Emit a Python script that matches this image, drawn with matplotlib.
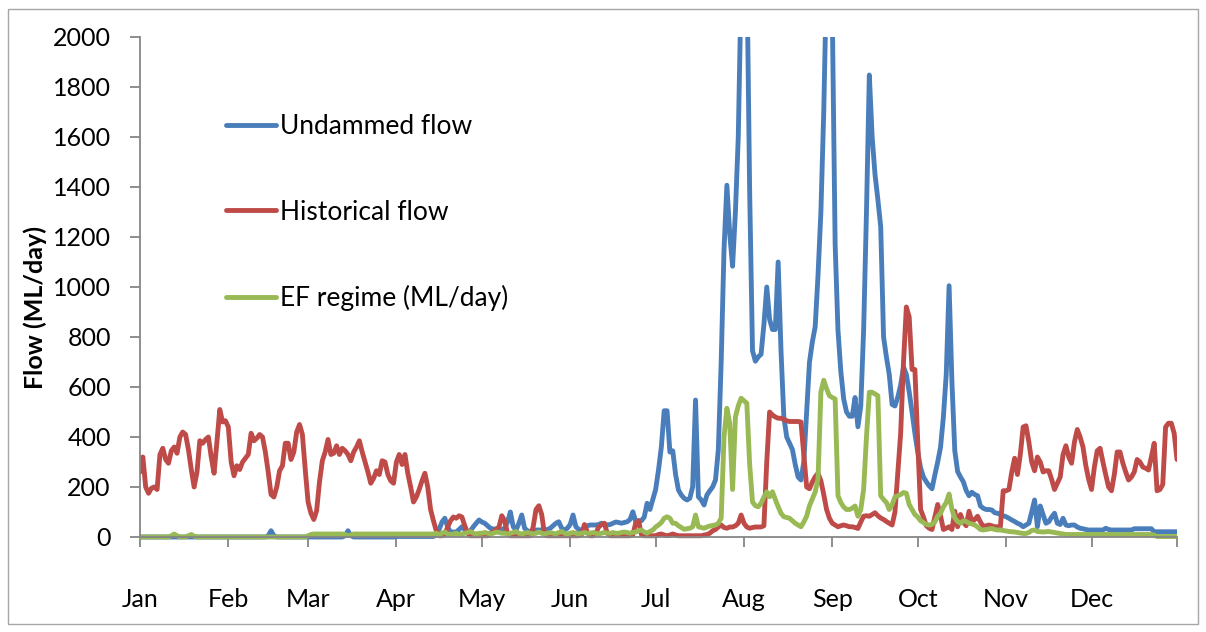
"""Daily flow: undammed vs historical vs EF regime."""

import matplotlib
matplotlib.use("Agg")
import matplotlib.pyplot as plt
import numpy as np
from matplotlib.patches import Rectangle

plt.rcParams["font.family"] = ["Lato", "DejaVu Sans"]

MONTHS = ["Jan", "Feb", "Mar", "Apr", "May", "Jun",
          "Jul", "Aug", "Sep", "Oct", "Nov", "Dec"]
MONTH_START = [0, 31, 59, 90, 120, 151, 181, 212, 243, 273, 304, 334, 364]

# daily values (ML/day), one row per month
undammed = [
    0, 0, 0, 0, 0, 0, 0, 0, 0, 0, 0, 0, 0, 0, 0, 0, 0, 0, 0, 0, 0, 0, 0, 0, 0, 0, 0, 0, 0, 0, 0,
    0, 0, 0, 0, 0, 0, 0, 0, 0, 0, 0, 0, 0, 0, 5, 25, 5, 0, 0, 0, 0, 0, 0, 0, 0, 0, 0, 0,
    0, 0, 0, 0, 0, 0, 0, 0, 0, 0, 0, 0, 0, 5, 25, 5, 0, 0, 0, 0, 0, 0, 0, 0, 0, 0, 0, 0, 0, 0, 0,
    2, 2, 2, 2, 2, 2, 2, 2, 2, 2, 2, 2, 2, 2, 10, 30, 60, 75, 40, 20, 20, 20, 30, 41, 30, 21, 25, 41, 55, 68,
    60, 55, 45, 35, 32, 32, 32, 30, 35, 60, 100, 41, 28, 55, 88, 35, 25, 21, 25, 28, 28, 28, 28, 30, 35, 45, 55, 61, 35, 28, 35,
    50, 88, 41, 30, 28, 35, 45, 48, 48, 48, 50, 55, 52, 48, 50, 55, 60, 58, 55, 58, 61, 70, 101, 61, 65, 65, 80, 135, 110, 150,
    190, 268, 360, 505, 505, 340, 345, 250, 188, 168, 155, 148, 155, 201, 548, 161, 148, 128, 168, 185, 200, 228, 348, 700, 1150, 1407, 1213, 1083, 1300, 1600, 2200,
    3000, 2300, 1380, 745, 703, 720, 731, 850, 1000, 870, 830, 830, 1100, 745, 480, 400, 375, 350, 290, 240, 228, 300, 500, 700, 780, 841, 1048, 1300, 1700, 2250, 2800,
    2100, 1172, 827, 662, 552, 500, 483, 483, 558, 441, 524, 827, 1300, 1848, 1600, 1450, 1350, 1241, 800, 720, 650, 530, 524, 560, 607, 680, 650, 580, 500, 414,
    340, 276, 240, 221, 205, 193, 248, 300, 359, 480, 650, 1005, 620, 345, 262, 240, 221, 186, 165, 179, 170, 165, 124, 115, 110, 110, 108, 97, 95, 90, 85,
    81, 75, 68, 62, 55, 50, 41, 48, 55, 100, 148, 41, 124, 90, 55, 61, 80, 95, 55, 50, 75, 48, 45, 48, 48, 40, 35, 33, 30, 28,
    28, 28, 28, 28, 28, 35, 30, 28, 28, 28, 28, 28, 28, 28, 28, 33, 33, 33, 33, 33, 33, 33, 21, 21, 21, 21, 21, 21, 21, 21, 21,
]

historical = [
    260, 320, 200, 175, 195, 200, 190, 330, 355, 310, 295, 345, 360, 335, 400, 420, 410, 350, 270, 200, 260, 385, 375, 390, 400, 320, 255, 380, 510, 460, 465,
    440, 300, 245, 285, 270, 300, 315, 330, 415, 385, 395, 410, 400, 340, 260, 170, 160, 200, 265, 285, 375, 375, 310, 340, 420, 450, 410, 270,
    140, 95, 70, 105, 220, 305, 340, 390, 330, 335, 365, 330, 355, 345, 330, 305, 340, 360, 385, 340, 300, 260, 215, 235, 265, 250, 305, 300, 250, 225, 215,
    300, 330, 290, 330, 255, 200, 140, 160, 190, 225, 255, 200, 110, 65, 25, 5, 5, 10, 40, 65, 80, 75, 85, 80, 45, 15, 5, 5, 5, 5,
    5, 5, 5, 15, 20, 30, 40, 85, 65, 15, 5, 5, 5, 5, 5, 5, 5, 5, 40, 110, 125, 90, 10, 5, 5, 5, 5, 5, 5, 5, 5,
    5, 5, 5, 5, 10, 50, 20, 5, 5, 15, 40, 50, 55, 15, 5, 5, 5, 5, 5, 5, 5, 5, 10, 55, 65, 10, 5, 5, 5, 5,
    5, 10, 12, 8, 5, 8, 12, 8, 5, 5, 5, 5, 5, 5, 5, 5, 5, 8, 10, 15, 25, 30, 40, 48, 38, 35, 40, 40, 45, 55, 88,
    55, 40, 35, 38, 40, 40, 40, 45, 300, 500, 488, 480, 475, 475, 470, 465, 462, 462, 462, 462, 460, 330, 200, 193, 220, 241, 255, 225, 170, 110, 75,
    55, 48, 41, 45, 48, 45, 41, 41, 38, 34, 60, 83, 85, 83, 90, 97, 85, 76, 70, 62, 55, 48, 100, 260, 414, 700, 920, 880, 670, 670,
    380, 110, 80, 45, 35, 30, 80, 130, 85, 30, 35, 41, 30, 103, 41, 90, 60, 45, 103, 60, 70, 83, 60, 41, 45, 48, 45, 41, 41, 41, 185,
    185, 190, 260, 315, 250, 330, 440, 445, 380, 300, 265, 320, 300, 260, 265, 265, 230, 190, 215, 240, 330, 365, 320, 295, 380, 430, 400, 360, 285, 230,
    190, 280, 345, 355, 300, 248, 200, 185, 250, 340, 340, 295, 260, 228, 240, 260, 310, 300, 280, 275, 268, 320, 375, 185, 190, 210, 440, 455, 455, 415, 310,
]

ef_regime = [
    0, 0, 0, 0, 0, 0, 0, 0, 0, 0, 0, 5, 12, 5, 0, 0, 0, 5, 10, 3, 0, 0, 0, 0, 0, 0, 0, 0, 0, 0, 0,
    0, 0, 0, 0, 0, 0, 0, 0, 0, 0, 0, 0, 0, 0, 0, 0, 0, 0, 0, 0, 0, 0, 0, 0, 0, 0, 0, 0,
    5, 10, 12, 12, 12, 12, 12, 12, 12, 12, 12, 12, 12, 10, 5, 8, 12, 12, 12, 12, 12, 12, 12, 12, 12, 12, 12, 12, 12, 12, 12,
    12, 12, 12, 12, 12, 12, 12, 12, 12, 12, 12, 12, 12, 12, 15, 10, 15, 20, 12, 10, 12, 15, 10, 12, 15, 18, 22, 15, 12, 15,
    15, 18, 15, 12, 15, 20, 18, 15, 15, 12, 15, 18, 22, 15, 12, 15, 18, 15, 12, 15, 20, 15, 12, 15, 18, 15, 12, 18, 22, 15, 12,
    15, 18, 15, 12, 15, 18, 15, 15, 18, 15, 12, 15, 18, 15, 15, 18, 15, 15, 18, 20, 18, 15, 18, 20, 25, 28, 20, 15, 22, 28,
    40, 48, 58, 75, 81, 75, 55, 55, 45, 38, 31, 33, 35, 41, 88, 41, 38, 35, 40, 44, 46, 48, 55, 75, 400, 515, 455, 190, 480, 525, 555,
    545, 535, 290, 140, 125, 121, 135, 160, 181, 161, 181, 150, 121, 95, 81, 78, 75, 65, 55, 48, 41, 60, 83, 125, 152, 180, 234, 580, 627, 593, 565,
    558, 552, 165, 138, 120, 110, 110, 115, 124, 83, 110, 190, 400, 579, 579, 572, 565, 165, 150, 138, 110, 130, 160, 165, 170, 178, 175, 130, 110, 90,
    80, 65, 58, 50, 48, 50, 60, 83, 95, 120, 138, 172, 110, 76, 62, 55, 65, 62, 55, 52, 48, 40, 30, 28, 30, 32, 34, 30, 28, 28, 26,
    24, 22, 21, 20, 18, 16, 14, 14, 18, 26, 28, 22, 21, 20, 21, 22, 20, 18, 16, 14, 12, 10, 10, 10, 10, 10, 10, 10, 10, 10,
    10, 10, 10, 10, 10, 10, 10, 10, 10, 10, 10, 10, 10, 10, 10, 10, 10, 10, 10, 10, 10, 10, 7, 2, 2, 2, 2, 2, 2, 2, 2,
]

SERIES = [
    ("Undammed flow", undammed, "#4a7ebb"),
    ("Historical flow", historical, "#be4b48"),
    ("EF regime (ML/day)", ef_regime, "#98b954"),
]


def main():
    fig = plt.figure(figsize=(12.06, 6.32), dpi=100)
    ax = fig.add_axes([140 / 1206, 1 - 537 / 632, 1037 / 1206, 500 / 632])

    # let the lines sit fully on the x axis, but still cut them at the top
    clip = Rectangle((0, -0.03), 1, 1.03, transform=ax.transAxes,
                     facecolor="none", edgecolor="none")
    for label, values, color in SERIES:
        days = np.arange(len(values))
        line, = ax.plot(days, values, color=color, lw=3.5, label=label,
                        solid_joinstyle="round", solid_capstyle="round")
        line.set_clip_path(clip)

    ax.set_xlim(0, 364)
    ax.set_ylim(0, 2000)
    ax.set_yticks(range(0, 2001, 200))
    ax.set_xticks(MONTH_START)
    ax.set_xticklabels(MONTHS + [""])

    for side in ("top", "right"):
        ax.spines[side].set_visible(False)
    for side in ("left", "bottom"):
        ax.spines[side].set_color("#868686")
        ax.spines[side].set_linewidth(1.3)

    ax.tick_params(axis="y", direction="out", length=7, width=1.3,
                   color="#868686", pad=14, labelsize=18)
    ax.tick_params(axis="x", direction="out", length=7, width=1.3,
                   color="#868686", pad=30, labelsize=18)

    fig.text(35 / 1206, 1 - 308 / 632, "Flow (ML/day)", rotation=90,
             ha="center", va="center", fontsize=18, fontweight="bold")

    ax.legend(loc="upper left", bbox_to_anchor=(226 / 1206, 1 - 114 / 632),
              bbox_transform=fig.transFigure, frameon=False, fontsize=19,
              handlelength=1.9, handletextpad=0.15, labelspacing=2.3,
              borderpad=0, borderaxespad=0)

    fig.patches.append(Rectangle((8 / 1206, 8 / 632), 1190 / 1206, 615 / 632,
                                 transform=fig.transFigure, fill=False,
                                 edgecolor="#a6a6a6", lw=1.0))

    fig.savefig("out.png", dpi=100)


if __name__ == "__main__":
    main()
